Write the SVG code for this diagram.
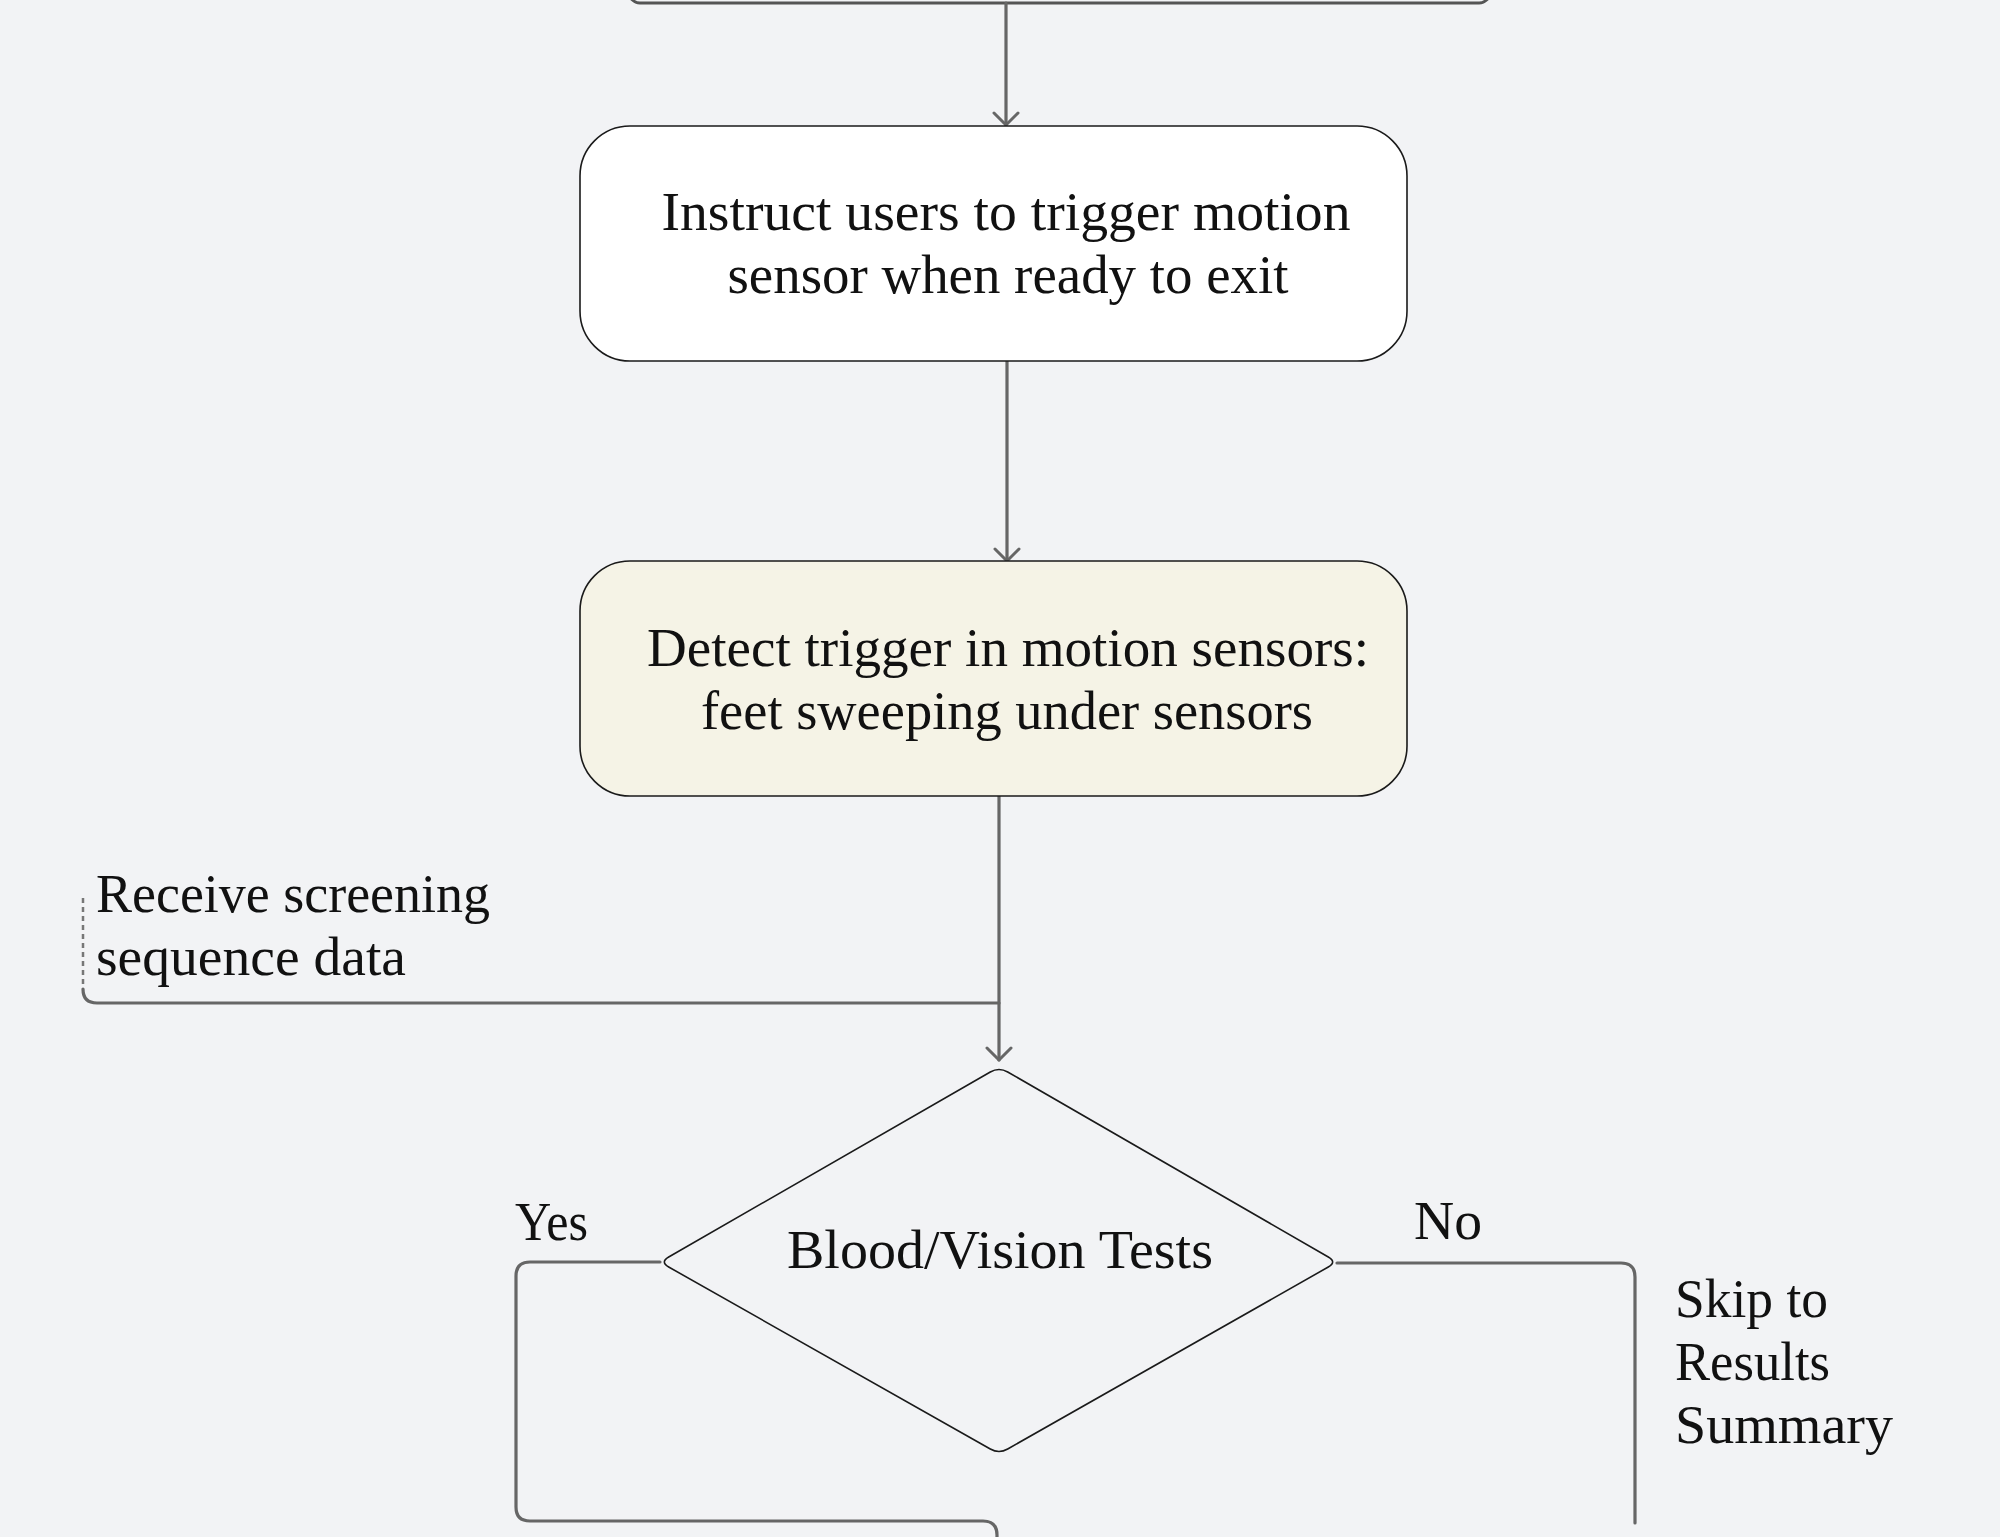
<svg xmlns="http://www.w3.org/2000/svg" width="2000" height="1537" viewBox="0 0 2000 1537">
<defs>
<style>
.bg{fill:#f2f3f5}
.box{stroke:#1a1a1a;stroke-width:1.6}
.conn{fill:none;stroke:#666;stroke-width:3.2;stroke-linejoin:round;stroke-linecap:round}
.dash{fill:none;stroke:#777;stroke-width:2.5;stroke-dasharray:5 4}
.t{font-family:"Liberation Serif","Times New Roman",serif;font-size:55px;fill:#111}
.c{text-anchor:middle}
</style>
<marker id="arr" viewBox="0 0 16 28" markerWidth="16" markerHeight="28" refX="14" refY="14" orient="auto" markerUnits="userSpaceOnUse">
<path d="M2,2 L14,14 L2,26" fill="none" stroke="#666" stroke-width="3" stroke-linecap="round" stroke-linejoin="round"/>
</marker>
</defs>
<rect class="bg" x="0" y="0" width="2000" height="1537"/>

<g id="node-top">
<rect x="629" y="-100" width="861" height="103" rx="11" fill="none" stroke="#555" stroke-width="3"/>
</g>

<g id="connectors">
<path class="conn" d="M1006,3 L1006,125" marker-end="url(#arr)"/>
<path class="conn" d="M1007,361 L1007,561" marker-end="url(#arr)"/>
<path class="conn" d="M999,796 L999,1060" marker-end="url(#arr)"/>
<path class="dash" d="M83,898 L83,988"/>
<path class="conn" d="M83,989 Q83,1003 97,1003 L999,1003"/>
<path class="conn" d="M660,1262 L530,1262 Q516,1262 516,1276 L516,1507 Q516,1521 530,1521 L983,1521 Q997,1521 997,1535 L997,1540"/>
<path class="conn" d="M1337,1263 L1621,1263 Q1635,1263 1635,1277 L1635,1523"/>
</g>

<g id="node-instruct">
<rect class="box" x="580" y="126" width="827" height="235" rx="50" fill="#ffffff"/>
<text class="t c" x="1006" y="230" textLength="689" lengthAdjust="spacingAndGlyphs">Instruct users to trigger motion</text>
<text class="t c" x="1008" y="293" textLength="561" lengthAdjust="spacingAndGlyphs">sensor when ready to exit</text>
</g>

<g id="node-detect">
<rect class="box" x="580" y="561" width="827" height="235" rx="50" fill="#f5f3e6"/>
<text class="t c" x="1008" y="666" textLength="722" lengthAdjust="spacingAndGlyphs">Detect trigger in motion sensors:</text>
<text class="t c" x="1007" y="729" textLength="612" lengthAdjust="spacingAndGlyphs">feet sweeping under sensors</text>
</g>

<g id="node-receive">
<text class="t" x="96" y="912" textLength="394" lengthAdjust="spacingAndGlyphs">Receive screening</text>
<text class="t" x="96" y="975" textLength="310" lengthAdjust="spacingAndGlyphs">sequence data</text>
</g>

<g id="node-decision">
<path class="box" fill="#f2f3f5" d="M990.3,1072 Q999,1067 1007.7,1072 L1328.3,1257 Q1337,1262 1328.3,1267 L1007.7,1449 Q999,1454 990.3,1449 L668.7,1267 Q660,1262 668.7,1257 Z"/>
<text class="t c" x="1000" y="1268" textLength="426" lengthAdjust="spacingAndGlyphs">Blood/Vision Tests</text>
</g>

<g id="labels">
<text class="t" x="515" y="1240" textLength="73" lengthAdjust="spacingAndGlyphs">Yes</text>
<text class="t" x="1414" y="1239" textLength="68" lengthAdjust="spacingAndGlyphs">No</text>
<text class="t" x="1675" y="1317" textLength="153" lengthAdjust="spacingAndGlyphs">Skip to</text>
<text class="t" x="1675" y="1380" textLength="155" lengthAdjust="spacingAndGlyphs">Results</text>
<text class="t" x="1675" y="1443" textLength="218" lengthAdjust="spacingAndGlyphs">Summary</text>
</g>
</svg>
